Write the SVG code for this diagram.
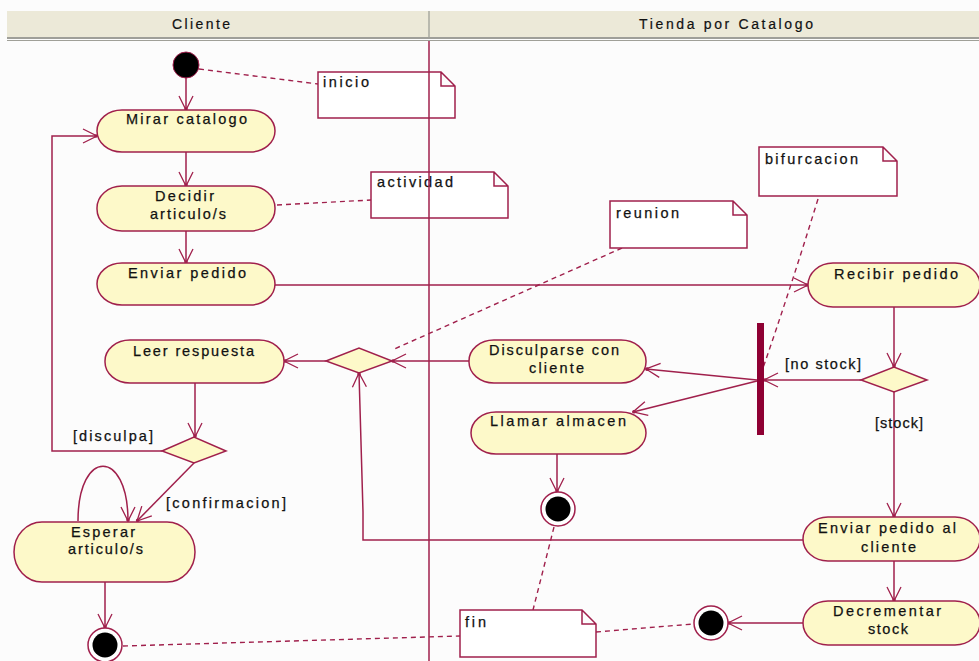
<svg xmlns="http://www.w3.org/2000/svg" width="979" height="661" viewBox="0 0 979 661">
<defs>
<style>
.n{fill:#fdf9c9;stroke:#a0204c;stroke-width:1.5}
.note{fill:#ffffff;stroke:#a0204c;stroke-width:1.5}
.c{fill:none;stroke:#a0204c;stroke-width:1.5}
.d{fill:none;stroke:#a0204c;stroke-width:1.4;stroke-dasharray:5,4}
.t{font-family:"Liberation Sans",Arial,sans-serif;font-size:14.5px;fill:#111;stroke:#111;stroke-width:0.25}
.h{font-family:"Liberation Sans",Arial,sans-serif;font-size:14px;fill:#111;stroke:#111;stroke-width:0.2}
</style>
<marker id="arr" viewBox="0 0 16 16" refX="15" refY="8" markerWidth="16" markerHeight="16" markerUnits="userSpaceOnUse" orient="auto">
<path d="M1,1 L15,8 L1,15" fill="none" stroke="#a0204c" stroke-width="1.3"/>
<circle cx="14" cy="8" r="1.8" fill="#a0204c"/>
</marker>
</defs>
<rect x="0" y="0" width="979" height="661" fill="#fcfcfc"/>
<g id="header">
<rect x="7" y="11" width="972" height="26" fill="#ece9d8"/>
<line x1="7" y1="38" x2="979" y2="38" stroke="#808078" stroke-width="1.5"/>
<line x1="7" y1="40.5" x2="979" y2="40.5" stroke="#a0a098" stroke-width="1.2"/>
<line x1="429" y1="11" x2="429" y2="37" stroke="#a8a8a0" stroke-width="1.5"/>
<text class="h" x="172" y="29" textLength="58" lengthAdjust="spacing">Cliente</text>
<text class="h" x="639" y="29" textLength="174" lengthAdjust="spacing">Tienda por Catalogo</text>
</g>
<g id="connectors">
<line class="c" x1="186" y1="78" x2="186" y2="110" marker-end="url(#arr)"/>
<line class="c" x1="186" y1="152" x2="186" y2="186" marker-end="url(#arr)"/>
<line class="c" x1="186" y1="231" x2="186" y2="263" marker-end="url(#arr)"/>
<line class="c" x1="275" y1="285" x2="808" y2="285" marker-end="url(#arr)"/>
<line class="c" x1="894" y1="307" x2="894" y2="367" marker-end="url(#arr)"/>
<line class="c" x1="861" y1="380" x2="764" y2="380" marker-end="url(#arr)"/>
<line class="c" x1="757" y1="380" x2="646" y2="369" marker-end="url(#arr)"/>
<line class="c" x1="757" y1="381" x2="633" y2="412" marker-end="url(#arr)"/>
<line class="c" x1="469" y1="361" x2="392" y2="361" marker-end="url(#arr)"/>
<line class="c" x1="326" y1="361" x2="284" y2="361" marker-end="url(#arr)"/>
<line class="c" x1="195" y1="383" x2="195" y2="437" marker-end="url(#arr)"/>
<polyline class="c" points="162,451 52,451 52,136 97,136" marker-end="url(#arr)"/>
<line class="c" x1="194" y1="463" x2="137" y2="521" marker-end="url(#arr)"/>
<path class="c" d="M78,521 C78,448 128,448 128,521" marker-end="url(#arr)"/>
<line class="c" x1="105" y1="582" x2="105" y2="628" marker-end="url(#arr)"/>
<line class="c" x1="557" y1="454" x2="557" y2="492" marker-end="url(#arr)"/>
<line class="c" x1="894" y1="392" x2="894" y2="517" marker-end="url(#arr)"/>
<polyline class="c" points="803,540 363,540 363,512 359,373" marker-end="url(#arr)"/>
<line class="c" x1="894" y1="561" x2="894" y2="601" marker-end="url(#arr)"/>
<line class="c" x1="803" y1="623" x2="728" y2="623" marker-end="url(#arr)"/>
<line class="d" x1="199" y1="69" x2="318" y2="84"/>
<line class="d" x1="277" y1="205" x2="371" y2="200"/>
<line class="d" x1="622" y1="248" x2="392" y2="350"/>
<path class="d" d="M818,199 Q790,290 763,368"/>
<line class="d" x1="554" y1="527" x2="533" y2="610"/>
<line class="d" x1="123" y1="646" x2="460" y2="636"/>
<line class="d" x1="596" y1="632" x2="693" y2="624"/>
</g>
<g id="start"><circle cx="186" cy="65" r="13" fill="#000" stroke="#a0204c" stroke-width="1"/></g>
<g id="note-inicio"><path class="note" d="M318,72 H441 L455,86 V118 H318 Z M441,72 V86 H455"/><text class="t" x="323" y="87" textLength="46" lengthAdjust="spacing">inicio</text></g>
<g id="note-actividad"><path class="note" d="M371,172 H494 L508,186 V218 H371 Z M494,172 V186 H508"/><text class="t" x="377" y="187" textLength="76" lengthAdjust="spacing">actividad</text></g>
<g id="note-reunion"><path class="note" d="M610,201 H733 L747,215 V248 H610 Z M733,201 V215 H747"/><text class="t" x="616" y="218" textLength="63" lengthAdjust="spacing">reunion</text></g>
<g id="note-bifurcacion"><path class="note" d="M759,147 H883 L897,161 V196 H759 Z M883,147 V161 H897"/><text class="t" x="765" y="164" textLength="93" lengthAdjust="spacing">bifurcacion</text></g>
<g id="note-fin"><path class="note" d="M460,610 H582 L596,624 V657 H460 Z M582,610 V624 H596"/><text class="t" x="465" y="627" textLength="21" lengthAdjust="spacing">fin</text></g>
<line id="lane-divider" x1="429" y1="41" x2="429" y2="661" stroke="#a0204c" stroke-width="1.5"/>
<g id="mirar-catalogo"><rect class="n" x="97" y="110" width="178" height="42" rx="25" ry="21"/><text class="t" x="126" y="124" textLength="121" lengthAdjust="spacing">Mirar catalogo</text></g>
<g id="decidir-articulos"><rect class="n" x="97" y="186" width="178" height="45" rx="25" ry="22"/><text class="t" x="155" y="201" textLength="59" lengthAdjust="spacing">Decidir</text><text class="t" x="150" y="219" textLength="76" lengthAdjust="spacing">articulo/s</text></g>
<g id="enviar-pedido"><rect class="n" x="97" y="263" width="178" height="42" rx="25" ry="21"/><text class="t" x="128" y="278" textLength="118" lengthAdjust="spacing">Enviar pedido</text></g>
<g id="leer-respuesta"><rect class="n" x="105" y="340" width="179" height="43" rx="25" ry="21"/><text class="t" x="133" y="356" textLength="121" lengthAdjust="spacing">Leer respuesta</text></g>
<g id="merge"><polygon class="n" points="326,361 359,348 392,361 359,373"/></g>
<g id="decision-cliente"><polygon class="n" points="162,451 194,437 226,451 194,463"/></g>
<text class="t" x="73" y="441" textLength="80" lengthAdjust="spacing">[disculpa]</text>
<text class="t" x="166" y="508" textLength="120" lengthAdjust="spacing">[confirmacion]</text>
<g id="esperar-articulos"><rect class="n" x="14" y="522" width="181" height="60" rx="28" ry="30"/><text class="t" x="71" y="537" textLength="64" lengthAdjust="spacing">Esperar</text><text class="t" x="68" y="554" textLength="75" lengthAdjust="spacing">articulo/s</text></g>
<g id="end-cliente"><circle cx="105" cy="645" r="17" fill="#fff" stroke="#a0204c" stroke-width="1.5"/><circle cx="105" cy="645" r="12.5" fill="#000"/></g>
<g id="recibir-pedido"><rect class="n" x="808" y="263" width="172" height="44" rx="25" ry="22"/><text class="t" x="834" y="279" textLength="124" lengthAdjust="spacing">Recibir pedido</text></g>
<g id="decision-stock"><polygon class="n" points="861,380 894,367 927,380 894,392"/></g>
<text class="t" x="785" y="369" textLength="76" lengthAdjust="spacing">[no stock]</text>
<text class="t" x="875" y="428" textLength="48" lengthAdjust="spacing">[stock]</text>
<g id="fork"><rect x="757" y="323" width="7" height="112" fill="#8e0033"/></g>
<g id="disculparse"><rect class="n" x="469" y="340" width="177" height="43" rx="25" ry="21"/><text class="t" x="489" y="355" textLength="130" lengthAdjust="spacing">Disculparse con</text><text class="t" x="529" y="373" textLength="55" lengthAdjust="spacing">cliente</text></g>
<g id="llamar-almacen"><rect class="n" x="471" y="412" width="175" height="42" rx="25" ry="21"/><text class="t" x="490" y="426" textLength="136" lengthAdjust="spacing">Llamar almacen</text></g>
<g id="end-almacen"><circle cx="558" cy="509" r="17" fill="#fff" stroke="#a0204c" stroke-width="1.5"/><circle cx="558" cy="509" r="12.5" fill="#000"/></g>
<g id="enviar-cliente"><rect class="n" x="803" y="517" width="177" height="44" rx="25" ry="22"/><text class="t" x="818" y="533" textLength="138" lengthAdjust="spacing">Enviar pedido al</text><text class="t" x="861" y="552" textLength="55" lengthAdjust="spacing">cliente</text></g>
<g id="decrementar-stock"><rect class="n" x="803" y="601" width="177" height="44" rx="25" ry="22"/><text class="t" x="833" y="616" textLength="108" lengthAdjust="spacing">Decrementar</text><text class="t" x="868" y="634" textLength="40" lengthAdjust="spacing">stock</text></g>
<g id="end-tienda"><circle cx="711" cy="623" r="17" fill="#fff" stroke="#a0204c" stroke-width="1.5"/><circle cx="711" cy="623" r="12.5" fill="#000"/></g>
</svg>
